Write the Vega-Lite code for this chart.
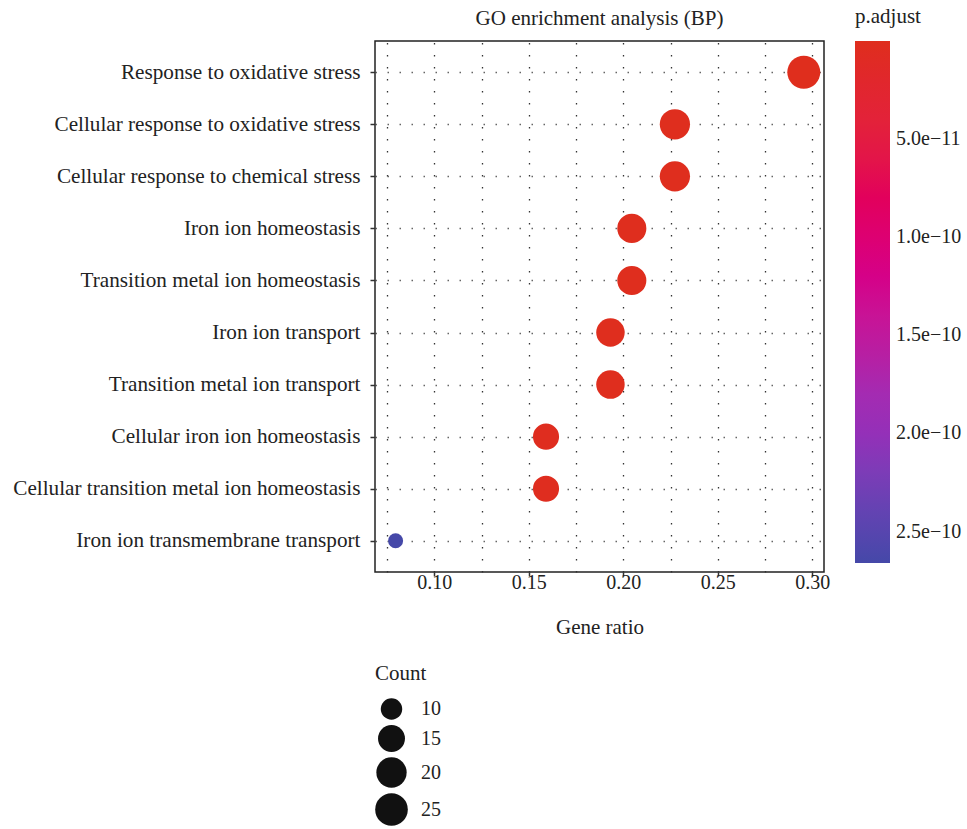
{
  "$schema": "https://vega.github.io/schema/vega-lite/v6.json",
  "autosize": {"type": "none"},
  "padding": {"left": 375, "top": 41, "right": 143, "bottom": 257},
  "width": 449,
  "height": 531,
  "background": "white",
  "title": {
    "text": "GO enrichment analysis (BP)",
    "anchor": "middle",
    "baseline": "bottom",
    "font": "Liberation Serif",
    "fontSize": 21,
    "fontWeight": "normal",
    "color": "#222",
    "offset": -44
  },
  "config": {
    "font": "Liberation Serif",
    "view": {"stroke": "#222", "strokeWidth": 1.5}
  },
  "data": {
    "values": [
      {"term": "Response to oxidative stress", "GeneRatio": 0.2955, "Count": 26, "p_adjust": 1.2e-14},
      {"term": "Cellular response to oxidative stress", "GeneRatio": 0.2273, "Count": 20, "p_adjust": 6.1e-13},
      {"term": "Cellular response to chemical stress", "GeneRatio": 0.2273, "Count": 20, "p_adjust": 6.1e-13},
      {"term": "Iron ion homeostasis", "GeneRatio": 0.2045, "Count": 18, "p_adjust": 8.4e-13},
      {"term": "Transition metal ion homeostasis", "GeneRatio": 0.2045, "Count": 18, "p_adjust": 8.4e-13},
      {"term": "Iron ion transport", "GeneRatio": 0.1932, "Count": 17, "p_adjust": 1.1e-12},
      {"term": "Transition metal ion transport", "GeneRatio": 0.1932, "Count": 17, "p_adjust": 1.1e-12},
      {"term": "Cellular iron ion homeostasis", "GeneRatio": 0.1591, "Count": 14, "p_adjust": 1.9e-12},
      {"term": "Cellular transition metal ion homeostasis", "GeneRatio": 0.1591, "Count": 14, "p_adjust": 1.9e-12},
      {"term": "Iron ion transmembrane transport", "GeneRatio": 0.0795, "Count": 7, "p_adjust": 2.66e-10}
    ]
  },
  "mark": {"type": "circle", "opacity": 1, "strokeWidth": 0},
  "encoding": {
    "y": {
      "field": "term",
      "type": "nominal",
      "sort": null,
      "scale": {"type": "point", "padding": 0.6},
      "axis": {
        "title": null,
        "domain": false,
        "grid": true,
        "gridColor": "#666",
        "gridDash": [1.5, 10.5],
        "gridWidth": 1.3,
        "tickSize": 5,
        "tickColor": "#333",
        "tickWidth": 1.5,
        "labelPadding": 10,
        "labelFont": "Liberation Serif",
        "labelFontSize": 21.2,
        "labelColor": "#222",
        "labelLimit": 0
      }
    },
    "x": {
      "field": "GeneRatio",
      "type": "quantitative",
      "scale": {"domain": [0.0686, 0.3062], "nice": false, "zero": false},
      "axis": {
        "title": "Gene ratio",
        "titleFont": "Liberation Serif",
        "titleFontSize": 21,
        "titleFontWeight": "normal",
        "titleColor": "#222",
        "titlePadding": 24,
        "values": [0.075, 0.1, 0.125, 0.15, 0.175, 0.2, 0.225, 0.25, 0.275, 0.3],
        "labelExpr": "abs(datum.value * 20 - round(datum.value * 20)) < 0.001 ? format(datum.value, '.2f') : ''",
        "domain": false,
        "grid": true,
        "gridColor": "#333",
        "gridDash": [1.5, 10.5],
        "gridWidth": 1.3,
        "tickColor": "#333",
        "tickWidth": 1.5,
        "tickSize": {"condition": {"test": "abs(datum.value * 20 - round(datum.value * 20)) < 0.001", "value": 4}, "value": 0},
        "labelPadding": -4,
        "labelFont": "Liberation Serif",
        "labelFontSize": 20,
        "labelColor": "#222"
      }
    },
    "color": {
      "field": "p_adjust",
      "type": "quantitative",
      "scale": {
        "domain": [2.66e-10, 2.0e-10, 1.75e-10, 1.5e-10, 1.28e-10, 7.8e-11, 5e-11, 0],
        "range": ["#4548A8", "#9430B8", "#A82AB0", "#C0189A", "#D00E90", "#E2005A", "#E3203F", "#DF2E1D"]
      },
      "legend": {
        "title": "p.adjust",
        "orient": "none",
        "legendX": 480,
        "legendY": -35,
        "direction": "vertical",
        "gradientLength": 522,
        "gradientThickness": 35,
        "gradientStrokeWidth": 0,
        "values": [5e-11, 1e-10, 1.5e-10, 2e-10, 2.5e-10],
        "labelExpr": "replace(format(datum.value, '.1e'), '-', '\u2212')",
        "labelFont": "Liberation Serif",
        "labelFontSize": 20,
        "labelColor": "#222",
        "labelOffset": 6,
        "titleFont": "Liberation Serif",
        "titleFontSize": 21,
        "titleFontWeight": "normal",
        "titleColor": "#222",
        "titlePadding": 14
      }
    },
    "size": {
      "field": "Count",
      "type": "quantitative",
      "scale": {"type": "log", "domain": [7, 26], "range": [225, 1089]},
      "legend": {
        "title": "Count",
        "orient": "none",
        "legendX": 0,
        "legendY": 622,
        "values": [10, 15, 20, 25],
        "symbolType": "circle",
        "symbolFillColor": "#111",
        "symbolStrokeColor": "#111",
        "symbolStrokeWidth": 0,
        "symbolOpacity": 1,
        "labelFont": "Liberation Serif",
        "labelFontSize": 20,
        "labelColor": "#222",
        "labelOffset": 13,
        "rowPadding": 5,
        "titleFont": "Liberation Serif",
        "titleFontSize": 21,
        "titleFontWeight": "normal",
        "titleColor": "#222",
        "titlePadding": 14
      }
    }
  }
}
